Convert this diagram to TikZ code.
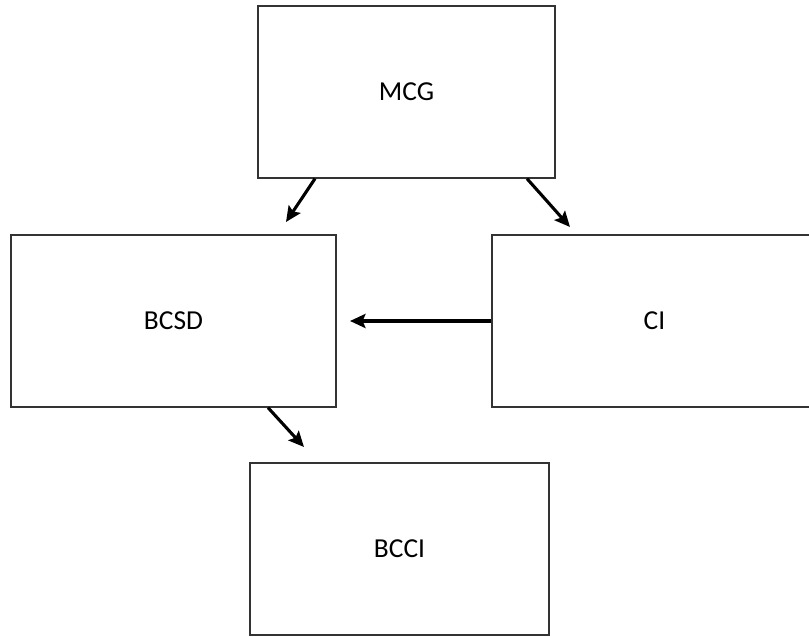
\documentclass[tikz,border=0pt]{standalone}
\usepackage{fontspec}
\setmainfont{Carlito}
\usetikzlibrary{arrows.meta}
\begin{document}
\begin{tikzpicture}[
    x=0.025cm, y=-0.025cm,
    font=\fontsize{19.5}{23}\selectfont,
    >={Stealth[length=11pt,width=10pt,inset=2pt]},
    block/.style={draw=black!80, line width=0.9pt, fill=white, minimum height=4.3cm},
    link/.style={->, line width=2.2pt}
  ]
    \useasboundingbox (0,0) rectangle (809,637);
    \begin{scope}
    \clip (0,0) rectangle (809,637);
    % the four boxes
    \node[block, minimum width=7.425cm] (mcg) at (406.5,92) {MCG};
    \node[block, minimum width=8.125cm] (bcsd) at (173.5,321) {BCSD};
    \node[block, minimum width=8.125cm] (ci) at (654.5,321) {CI};
    \node[block, minimum width=7.475cm] (bcci) at (399.5,549) {BCCI};

    % free arrow ends
    \coordinate (e1) at (286,222);
    \coordinate (e2) at (570,227);
    \coordinate (e3) at (350,321);
    \coordinate (e4) at (304,447);

    \draw[link] (mcg.south -| 315,0) -- (e1);
    \draw[link] (mcg.south -| 527,0) -- (e2);
    \draw[link] (ci.west) -- (e3);
    \draw[link] (bcsd.south -| 268,0) -- (e4);
    \end{scope}
  \end{tikzpicture}
\end{document}
